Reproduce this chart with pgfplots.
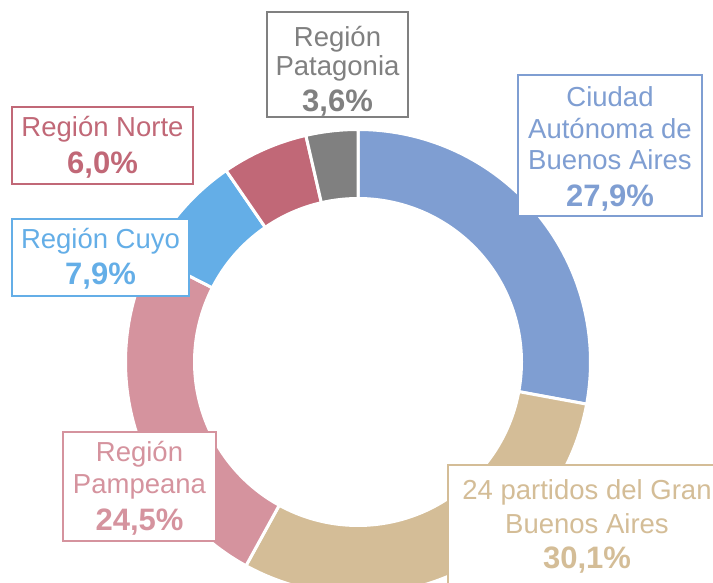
\documentclass[border=0pt]{standalone}
\usepackage{fontspec}
\setmainfont{Liberation Sans}
\usepackage{pgfplots}
\pgfplotsset{compat=1.18}
\definecolor{cCiudad}{HTML}{7F9ED2}
\definecolor{cPartidos}{HTML}{D4BD97}
\definecolor{cPampeana}{HTML}{D5939E}
\definecolor{cCuyo}{HTML}{64AEE7}
\definecolor{cNorte}{HTML}{C16877}
\definecolor{cPatagonia}{HTML}{808080}
% donut centre (cx,cy), outer radius R, inner radius r, in px of the 713x583 frame
\def\cx{358}\def\cy{221}\def\R{232.5}\def\r{165}
% \slice{cumulative start (%)}{value (%)}{colour}
\newcommand\slice[3]{%
  \pgfmathsetmacro\angA{90-3.6*(#1)}%
  \pgfmathsetmacro\angB{90-3.6*(#1+#2)}%
  \edef\temp{\noexpand\addplot[fill=#3, draw=white, line width=3bp, line join=round,
     domain=\angB:\angA, samples=120, variable=\noexpand\t]
     ({\cx+\R*cos(\noexpand\t)},{\cy+\R*sin(\noexpand\t)}) -- (axis cs:\cx,\cy) -- cycle;}%
  \temp}
\newcommand\reg{\fontsize{27.5bp}{32bp}\selectfont}
\newcommand\bol{\fontsize{31bp}{36bp}\selectfont\bfseries}
\begin{document}
\begin{tikzpicture}
\begin{axis}[hide axis, scale only axis, width=713bp, height=583bp,
  xmin=0, xmax=713, ymin=0, ymax=583, clip=false]
% values (%): Ciudad 27.9, Partidos 30.1, Pampeana 24.5, Cuyo 7.9, Norte 6.0, Patagonia 3.6
\slice{0}{27.9}{cCiudad}
\slice{27.9}{30.1}{cPartidos}
\slice{58.0}{24.5}{cPampeana}
\slice{82.5}{7.9}{cCuyo}
\slice{90.4}{6.0}{cNorte}
\slice{96.4}{3.6}{cPatagonia}
\addplot[fill=white, draw=none, domain=0:360, samples=200, variable=\t]
  ({\cx+\r*cos(t)},{\cy+\r*sin(t)}) -- cycle;
% label boxes (y = 583 - pixel row)
\tikzset{lbl/.style={line width=1.5bp, fill=white}}
% Patagonia
\draw[lbl, draw=cPatagonia] (axis cs:267,571) rectangle (axis cs:408,466);
\node[anchor=base, text=cPatagonia, font=\reg] at (axis cs:337.5,536) {Región};
\node[anchor=base, text=cPatagonia, font=\reg] at (axis cs:337.5,507) {Patagonia};
\node[anchor=base, text=cPatagonia, font=\bol] at (axis cs:337.5,471.3) {3,6\%};
% Ciudad
\draw[lbl, draw=cCiudad] (axis cs:518,508) rectangle (axis cs:702,367);
\node[anchor=base, text=cCiudad, font=\reg] at (axis cs:610,476.3) {Ciudad};
\node[anchor=base, text=cCiudad, font=\reg] at (axis cs:610,444.7) {Autónoma de};
\node[anchor=base, text=cCiudad, font=\reg] at (axis cs:610,413) {Buenos Aires};
\node[anchor=base, text=cCiudad, font=\bol] at (axis cs:610,376.3) {27,9\%};
% Norte
\draw[lbl, draw=cNorte] (axis cs:12,476) rectangle (axis cs:193,399);
\node[anchor=base, text=cNorte, font=\reg] at (axis cs:102.5,446.3) {Región Norte};
\node[anchor=base, text=cNorte, font=\bol] at (axis cs:102.5,409.7) {6,0\%};
% Cuyo
\draw[lbl, draw=cCuyo] (axis cs:12,364) rectangle (axis cs:189,287);
\node[anchor=base, text=cCuyo, font=\reg] at (axis cs:100.5,334.7) {Región Cuyo};
\node[anchor=base, text=cCuyo, font=\bol] at (axis cs:100.5,298.7) {7,9\%};
% Pampeana
\draw[lbl, draw=cPampeana] (axis cs:63,151) rectangle (axis cs:216,42);
\node[anchor=base, text=cPampeana, font=\reg] at (axis cs:139.5,121.3) {Región};
\node[anchor=base, text=cPampeana, font=\reg] at (axis cs:139.5,89) {Pampeana};
\node[anchor=base, text=cPampeana, font=\bol] at (axis cs:139.5,52.3) {24,5\%};
% Partidos
\draw[lbl, draw=cPartidos] (axis cs:448,118) rectangle (axis cs:726,-6);
\node[anchor=base, text=cPartidos, font=\reg] at (axis cs:587,83) {24 partidos del Gran};
\node[anchor=base, text=cPartidos, font=\reg] at (axis cs:587,49.7) {Buenos Aires};
\node[anchor=base, text=cPartidos, font=\bol] at (axis cs:587,14.7) {30,1\%};
\end{axis}
\pgfresetboundingbox
\useasboundingbox (current axis.south west) rectangle (current axis.north east);
\end{tikzpicture}
\end{document}
